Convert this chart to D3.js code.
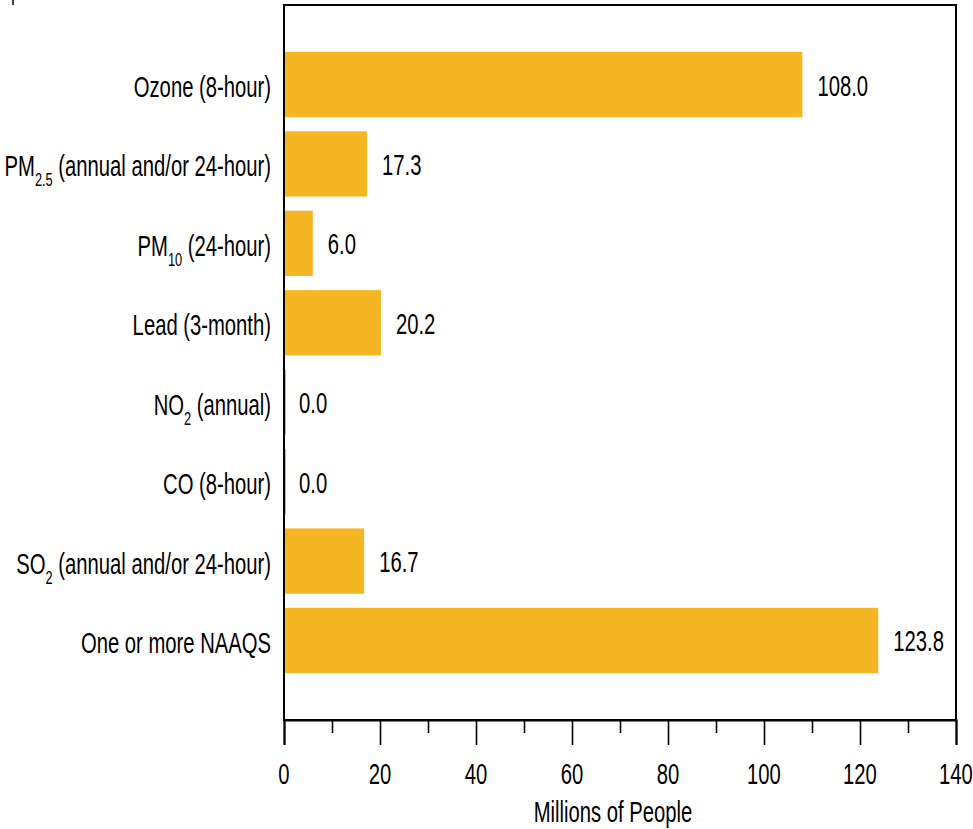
<!DOCTYPE html>
<html>
<head>
<meta charset="utf-8">
<script src="https://cdn.jsdelivr.net/npm/d3@7"></script>
<style>
  html, body { margin: 0; padding: 0; background: #fff; }
  svg { display: block; }
  text { font-family: "Liberation Sans", Arial, sans-serif; fill: #000; }
</style>
</head>
<body>
<svg id="chart" width="973" height="829"></svg>
<script>
// ---- data ----
const categories = [
  "Ozone (8-hour)",
  "PM_{2.5} (annual and/or 24-hour)",
  "PM_{10} (24-hour)",
  "Lead (3-month)",
  "NO_{2} (annual)",
  "CO (8-hour)",
  "SO_{2} (annual and/or 24-hour)",
  "One or more NAAQS"
];
const values = [108.0, 17.3, 6.0, 20.2, 0.0, 0.0, 16.7, 123.8];
const majorTicks = [0, 20, 40, 60, 80, 100, 120, 140];
const minorTicks = [10, 30, 50, 70, 90, 110, 130];
const xTitle = "Millions of People";

// ---- layout ----
const svg = d3.select("#chart");
const plotLeft = 284, plotRight = 956, plotTop = 5, plotBottom = 720;
const SX = 0.675;       // horizontal condensation of the type
const FS = 30;          // font size
const barColor = "#f5b624";

const x = d3.scaleLinear().domain([0, 140]).range([plotLeft, plotRight]);
const y = d3.scaleBand().domain(d3.range(categories.length))
  .range([plotTop, plotBottom]).paddingInner(0.178).paddingOuter(0.59);

// tiny mark at top-left
svg.append("line").attr("x1", 13).attr("x2", 13).attr("y1", 0).attr("y2", 5)
  .attr("stroke", "#000").attr("stroke-width", 1.5);

// bars
svg.append("g").selectAll("rect").data(values).join("rect")
  .attr("x", x(0))
  .attr("y", (d, i) => y(i))
  .attr("width", d => Math.max(2, x(d) - x(0)))
  .attr("height", y.bandwidth())
  .attr("fill", barColor);

// box
svg.append("rect").attr("x", plotLeft).attr("y", plotTop)
  .attr("width", plotRight - plotLeft).attr("height", plotBottom - plotTop)
  .attr("fill", "none").attr("stroke", "#000").attr("stroke-width", 2);

// x axis ticks
const axis = d3.axisBottom(x).tickValues(majorTicks).tickSize(25).tickFormat("");
const gA = svg.append("g").attr("transform", `translate(0,${plotBottom})`).call(axis);
gA.select(".domain").attr("stroke-width", 2);
gA.selectAll(".tick line").attr("stroke-width", 1.6);
const axisMinor = d3.axisBottom(x).tickValues(minorTicks).tickSize(13).tickFormat("");
const gM = svg.append("g").attr("transform", `translate(0,${plotBottom})`).call(axisMinor);
gM.select(".domain").remove();
gM.selectAll(".tick line").attr("stroke-width", 1.6);

function condText(g, px, py, anchor, size) {
  return g.append("text")
    .attr("transform", `translate(${px},${py}) scale(${SX},1)`)
    .attr("text-anchor", anchor)
    .attr("font-size", size || FS);
}

// tick labels
majorTicks.forEach(t => {
  condText(svg, x(t), 784, "middle").text(d3.format("d")(t));
});

// axis title
condText(svg, 613, 822, "middle").text(xTitle);

// category labels (with subscripts)
categories.forEach((c, i) => {
  const cy = y(i) + y.bandwidth() / 2;
  const t = condText(svg, 271, cy + 12.5, "end");
  const parts = c.split(/(_\{[^}]*\})/).filter(s => s.length);
  let shifted = false;
  parts.forEach(p => {
    const m = p.match(/^_\{([^}]*)\}$/);
    if (m) {
      t.append("tspan").attr("font-size", 19).attr("dy", 10).text(m[1]);
      shifted = true;
    } else {
      const ts = t.append("tspan").text(p);
      if (shifted) { ts.attr("dy", -10); shifted = false; }
    }
  });
});

// value labels
values.forEach((v, i) => {
  const cy = y(i) + y.bandwidth() / 2;
  condText(svg, x(v) + 15, cy + 11, "start").text(d3.format(".1f")(v));
});
</script>
</body>
</html>
